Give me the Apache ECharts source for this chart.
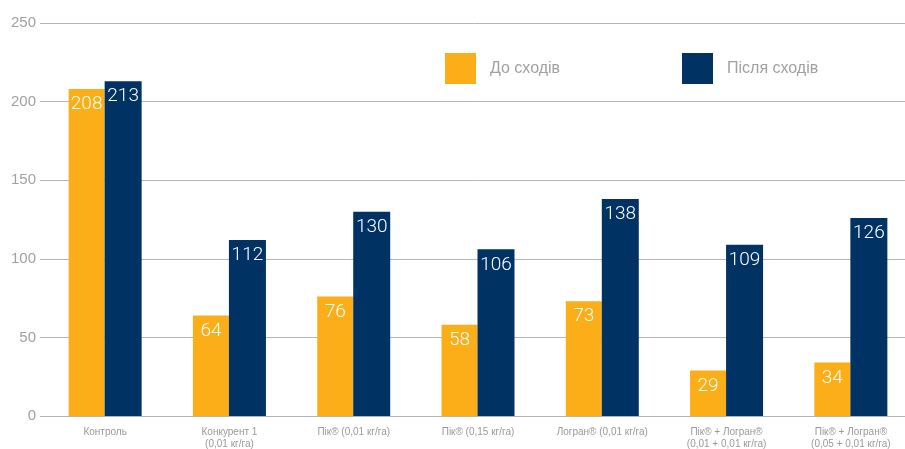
<!DOCTYPE html>
<html><head><meta charset="utf-8">
<script src="https://cdn.jsdelivr.net/npm/echarts@6/dist/echarts.min.js"></script>
<style>html,body{margin:0;padding:0;background:#fff}#c{width:905px;height:449px}</style>
</head><body><div id="c"></div>
<script>
const categories = ['Контроль','Конкурент 1\n(0,01 кг/га)','Пік® (0,01 кг/га)','Пік® (0,15 кг/га)','Логран® (0,01 кг/га)','Пік® + Логран®\n(0,01 + 0,01 кг/га)','Пік® + Логран®\n(0,05 + 0,01 кг/га)'];
const beforeName = 'До сходів';
const afterName = 'Після сходів';
const beforeValues = [208,64,76,58,73,29,34];
const afterValues = [213,112,130,106,138,109,126];
const yTicks = {min:0,max:250,interval:50};

const font = '"Liberation Sans", Arial, sans-serif';
const labelCfg = {show:true, position:'insideTop', distance:6, color:'#fff', fontSize:19, fontWeight:300, fontFamily:'Roboto, "Liberation Sans", sans-serif'};
const chart = echarts.init(document.getElementById('c'));
chart.setOption({
  animation:false,
  grid:{left:43, right:-8, top:23, bottom:33, outerBoundsMode:'none', containLabel:false},
  legend:[
    {data:[beforeName], left:440, top:48, itemWidth:31, itemHeight:31, icon:'rect',
     textStyle:{color:'#a0a0a0', fontSize:16, fontFamily:font, padding:[0,0,0,9]}},
    {data:[afterName], left:677, top:48, itemWidth:31, itemHeight:31, icon:'rect',
     textStyle:{color:'#a0a0a0', fontSize:16, fontFamily:font, padding:[0,0,0,9]}}
  ],
  xAxis:{type:'category', data:categories,
    axisLine:{lineStyle:{color:'#b5b5b5', width:1}}, axisTick:{show:false},
    axisLabel:{color:'#999', fontSize:10, fontFamily:font, margin:10, lineHeight:12, interval:0}},
  yAxis:{type:'value', min:yTicks.min, max:yTicks.max, interval:yTicks.interval,
    axisLine:{show:false}, axisTick:{show:true, length:3, lineStyle:{color:'#b5b5b5'}},
    splitLine:{lineStyle:{color:'#b5b5b5', width:1}},
    axisLabel:{color:'#a0a0a0', fontSize:15, fontFamily:font, margin:7}},
  series:[
    {name:beforeName, type:'bar', data:beforeValues, barWidth:36, barGap:'0%', itemStyle:{color:'#FBAE17'}, label:labelCfg},
    {name:afterName, type:'bar', data:afterValues, barWidth:37, barGap:'0%', itemStyle:{color:'#003263'}, label:labelCfg}
  ]
});
</script></body></html>
